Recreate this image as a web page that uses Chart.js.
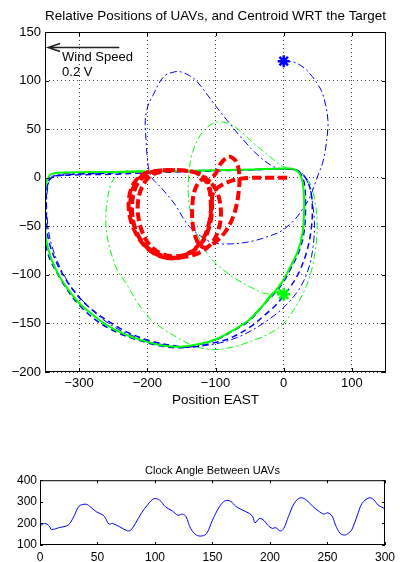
<!DOCTYPE html>
<html lang="en">
<head>
  <meta charset="UTF-8">
  <title>UAV Positions and Clock Angle</title>
  <script src="https://cdn.jsdelivr.net/npm/chart.js"></script>
  <style>
    body { margin: 0; background: #fff; width: 400px; height: 562px; position: relative; overflow: hidden; }
    canvas { position: absolute; left: 0; }
    #posChart { top: 0; }
    #clockChart { top: 455px; }
  </style>
</head>
<body>
  <canvas id="posChart" width="400" height="410"></canvas>
  <canvas id="clockChart" width="400" height="107"></canvas>

  <script>
    // ---- main plot: positions relative to the target ----
    const xTicks = [-300, -200, -100, 0, 100];
    const yTicks = [-200, -150, -100, -50, 0, 50, 100, 150];

    const greenSolidX = [0, -14, -30, -50, -74, -98, -122, -151, -175, -200, -230, -259, -282, -300, -316, -330, -341, -348, -350, -350, -348, -342, -330, -250, -150, -50, 10, 20, 26, 29, 30, 28, 21, 8, -2, -14, -30, -50];
    const greenSolidY = [-120, -118, -131, -146, -157, -166, -171, -174, -173, -169, -162, -152, -140, -129, -115, -100, -83, -65, -45, -20, -5, 3, 5, 6, 7, 8.5, 9.5, 7, 0, -12, -31, -55, -75, -94, -107, -118, -131, -146];

    const blueDashX = [-335, -300, -250, -200, -100, 0, 20, 32, 40, 42, 40, 33, 22, 10, -10, -19, -48, -78, -103, -130, -151, -200, -240, -289, -321, -343, -348, -347, -340,
                       -320, -250, -150, -50, 5, 22, 30, 32, 30, 23, 10, 0, -12, -28, -50, -75, -100, -151, -200, -259, -300, -330, -347, -350, -349, -343];
    const blueDashY = [2, 3, 3.5, 5, 7, 9, 7, 0, -15, -35, -55, -78, -98, -112, -130, -136, -153, -165, -170, -174, -174, -167, -155, -131, -103, -69, -40, -10, 0,
                       3, 5, 7, 8, 9, 6, -5, -30, -55, -75, -94, -107, -118, -130, -147, -158, -167, -175, -170, -154, -131, -101, -75, -45, -15, 0];

    const blueDashDotX = [0, 15, 30, 42, 55, 62, 65, 64, 61, 57, 50, 44, 37, 29, 15, -4, -25, -44, -73, -103, -122, -141, -160, -180, -195, -200, -202, -203, -199, -193, -176, -160, -151, -138, -127, -102, -83, -63, -39, -14, 5, 20, 30, 38, 42, 45, 44, 38, 25, 5, -20, -60, -100, -150, -200, -250, -290, -320, -340, -347, -346, -338, -300, -250];
    const blueDashDotY = [120, 119, 113, 104, 90, 73, 58, 45, 28, 15, 2, -10, -22, -31, -44, -55, -61, -65, -68, -67, -60, -48, -27, -10, 2, 21, 40, 59, 74, 83, 104, 109, 109, 105, 99, 76, 59, 42, 24, 11, 9, 8, 2, -10, -25, -45, -65, -90, -112, -130, -145, -162, -171, -174, -168, -153, -130, -103, -70, -40, -10, 2, 4, 5];

    const greenDashDotX = [0, -15, -29, -50, -73, -90, -103, -115, -124, -132, -137, -140, -139, -136, -130, -122, -112, -100, -92, -78, -62, -48, -33, -19, -5, 5, 18, 30, 40, 46, 49, 48, 42, 33, 20, 0, -20, -39, -73, -103, -132, -162, -180, -196, -215, -230, -244, -252, -259, -261, -259, -254, -245, -230, -200];
    const greenDashDotY = [-120, -120, -119, -112, -103, -94, -86, -75, -62, -51, -35, -15, 5, 20, 33, 44, 52, 57, 57.5, 55, 47, 38, 29, 21, 13, 10, 8, 2, -8, -25, -45, -65, -92, -112, -130, -150, -160, -166, -174, -177, -173, -162, -154, -145, -128, -110, -95, -80, -60, -40, -25, -8, 2, 7, 7];

    const centroidX = [5, -20, -45, -63, -80, -92, -103,
                       -106, -110, -120, -140, -165, -190, -212, -225, -227, -220, -205, -180, -155, -132, -115, -108,
                       -105, -109, -118, -137, -160, -183, -200, -211, -214, -208, -195, -175, -150, -128, -112,
                       -100, -92, -80, -70, -65, -67, -74, -86, -100, -115,
                       -125, -133, -134, -130, -120, -106, -96, -92, -95, -103, -118,
                       -140, -165, -192, -213, -222, -220, -210, -190, -165, -140, -120, -110, -107,
                       -108, -116, -134, -158, -186, -208, -221, -225, -219, -205, -185, -162];
    const centroidY = [0, 0, 0, -1, -4, -8, -14,
                       -30, -48, -65, -78, -83, -78, -63, -42, -22, -6, 4, 7.5, 7.5, 6, 0, -12,
                       -32, -50, -65, -77, -81, -77, -66, -48, -28, -10, 2, 7, 7.5, 5, -3,
                       4, 15, 21.5, 17, 3, -20, -40, -56, -66, -72,
                       -68, -50, -29, -12, -2, -6, -18, -36, -52, -65, -75,
                       -81, -82, -76, -60, -38, -16, -2, 6, 8, 7, 2, -10, -25,
                       -45, -62, -76, -83, -79, -66, -46, -26, -8, 3, 7, 8];

    const startBlue = [{ x: 0, y: 120 }];
    const startGreen = [{ x: 0, y: -120 }];

    // ---- bottom plot: clock angle ----
    const clockTicksX = [0, 50, 100, 150, 200, 250, 300];
    const clockTicksY = [100, 200, 300, 400];
    const clockTime = [0, 4, 8, 10, 17, 23, 26, 30, 34, 40, 43, 49, 55, 57, 60, 63, 69, 76, 79, 83, 88, 94, 99, 104, 109, 115, 120, 124, 127, 131, 136, 141, 145, 150, 156, 161, 166, 170, 176, 182, 185, 187, 191, 195, 198, 202, 205, 209, 212, 216, 221, 226, 231, 237, 242, 247, 250, 254, 257, 261, 265, 268, 271, 276, 280, 286, 290, 294, 300];
    const clockAngle = [188, 200, 188, 172, 181, 188, 200, 238, 280, 289, 280, 254, 238, 223, 197, 200, 185, 166, 169, 200, 246, 289, 314, 308, 277, 258, 238, 243, 231, 177, 146, 142, 154, 215, 277, 305, 302, 280, 262, 246, 231, 203, 223, 212, 192, 177, 180, 165, 177, 231, 292, 318, 311, 280, 258, 243, 249, 234, 192, 154, 146, 154, 169, 238, 292, 318, 311, 285, 268];

    const toPts = (xs, ys) => xs.map((x, i) => ({ x: x, y: ys[i] }));
    const minus = v => String(v).replace('-', '\u2212');

    Chart.defaults.font.family = "'Liberation Sans', Arial, sans-serif";
    Chart.defaults.color = '#000';

    // box round the axes with inward tick marks, like matlab
    const matlabBox = {
      id: 'matlabBox',
      afterDraw(chart, args, opts) {
        const { ctx, chartArea: a, scales: { x, y } } = chart;
        const len = opts.len || 4;
        ctx.save();
        ctx.strokeStyle = '#000';
        ctx.lineWidth = 1;
        ctx.strokeRect(a.left + 0.5, a.top + 0.5, a.right - a.left - 1, a.bottom - a.top - 1);
        ctx.beginPath();
        x.ticks.forEach(t => {
          const px = Math.round(x.getPixelForValue(t.value)) + 0.5;
          ctx.moveTo(px, a.bottom); ctx.lineTo(px, a.bottom - len);
          ctx.moveTo(px, a.top); ctx.lineTo(px, a.top + len);
        });
        y.ticks.forEach(t => {
          const py = Math.round(y.getPixelForValue(t.value)) + 0.5;
          ctx.moveTo(a.left, py); ctx.lineTo(a.left + len, py);
          ctx.moveTo(a.right, py); ctx.lineTo(a.right - len, py);
        });
        ctx.stroke();
        ctx.restore();
      }
    };

    // wind arrow and its label
    const windNote = {
      id: 'windNote',
      afterDraw(chart) {
        const { ctx, scales: { x, y } } = chart;
        const x0 = x.getPixelForValue(-345.5), x1 = x.getPixelForValue(-241);
        const ya = y.getPixelForValue(134);
        ctx.save();
        ctx.strokeStyle = '#222';
        ctx.lineWidth = 1.5;
        ctx.beginPath();
        ctx.moveTo(x1, ya); ctx.lineTo(x0, ya);
        ctx.moveTo(x0 + 12, ya - 4); ctx.lineTo(x0, ya); ctx.lineTo(x0 + 12, ya + 4);
        ctx.stroke();
        ctx.fillStyle = '#000';
        ctx.font = "13px 'Liberation Sans', Arial, sans-serif";
        ctx.textBaseline = 'middle';
        ctx.fillText('Wind Speed', x.getPixelForValue(-325), y.getPixelForValue(124));
        ctx.fillText('0.2 V', x.getPixelForValue(-325), y.getPixelForValue(108.5));
        ctx.restore();
      }
    };

    const lineSet = (data, color, width, dash) => ({
      data: data,
      showLine: true,
      borderColor: color,
      borderWidth: width,
      borderDash: dash,
      pointRadius: 0,
      tension: 0.35,
      fill: false
    });

    new Chart(document.getElementById('posChart'), {
      type: 'scatter',
      data: {
        datasets: [
          lineSet(toPts(centroidX, centroidY), '#ff0000', 4, [9, 4]),
          { data: startBlue, pointStyle: 'star', pointRadius: 6, borderColor: '#0000ff', borderWidth: 2.5 },
          { data: startGreen, pointStyle: 'star', pointRadius: 6.5, borderColor: '#00ff00', borderWidth: 2.5 },
          lineSet(toPts(greenSolidX, greenSolidY), '#00ff00', 2, []),
          lineSet(toPts(blueDashX, blueDashY), '#0000ff', 1.5, [6, 4]),
          lineSet(toPts(blueDashDotX, blueDashDotY), '#0000ff', 1, [7, 3, 2, 3]),
          lineSet(toPts(greenDashDotX, greenDashDotY), '#00ff00', 1, [7, 3, 2, 3])
        ]
      },
      options: {
        responsive: false,
        animation: false,
        layout: { padding: { left: 0, right: 14, top: 0, bottom: 0 } },
        plugins: {
          legend: { display: false },
          tooltip: { enabled: false },
          title: {
            display: true,
            fullSize: false,
            text: 'Relative Positions of UAVs, and Centroid WRT the Target',
            font: { size: 13.5, weight: 'normal' },
            padding: { top: 8, bottom: 7.8 }
          }
        },
        scales: {
          x: {
            type: 'linear', min: -350, max: 150,
            afterBuildTicks: s => { s.ticks = xTicks.map(v => ({ value: v })); },
            afterFit: s => { s.height = 38; },
            grid: { drawTicks: false, color: 'rgba(0,0,0,0.75)', lineWidth: 1 },
            border: { display: false, dash: [1, 3] },
            ticks: { padding: 4, font: { size: 13 }, callback: minus },
            title: { display: true, text: 'Position EAST', font: { size: 13.5 }, padding: { top: 0, bottom: 2 } }
          },
          y: {
            type: 'linear', min: -200, max: 150,
            afterBuildTicks: s => { s.ticks = yTicks.map(v => ({ value: v })); },
            afterFit: s => { s.width = 45; },
            grid: { drawTicks: false, color: 'rgba(0,0,0,0.75)', lineWidth: 1 },
            border: { display: false, dash: [1, 3] },
            ticks: { padding: 4, font: { size: 13 }, callback: minus }
          }
        }
      },
      plugins: [matlabBox, windNote]
    });

    new Chart(document.getElementById('clockChart'), {
      type: 'scatter',
      data: {
        datasets: [lineSet(toPts(clockTime, clockAngle), '#0000ff', 1, [])]
      },
      options: {
        responsive: false,
        animation: false,
        layout: { padding: { left: 0, right: 13, top: 0, bottom: 0 } },
        plugins: {
          legend: { display: false },
          tooltip: { enabled: false },
          matlabBox: { len: 3 },
          title: {
            display: true,
            fullSize: false,
            text: 'Clock Angle Between UAVs',
            font: { size: 11, weight: 'normal' },
            padding: { top: 9, bottom: 3 }
          }
        },
        scales: {
          x: {
            type: 'linear', min: 0, max: 300,
            afterBuildTicks: s => { s.ticks = clockTicksX.map(v => ({ value: v })); },
            afterFit: s => { s.height = 17; },
            grid: { display: false, drawTicks: false },
            border: { display: false },
            ticks: { padding: 5, font: { size: 12 } }
          },
          y: {
            type: 'linear', min: 100, max: 400,
            afterBuildTicks: s => { s.ticks = clockTicksY.map(v => ({ value: v })); },
            afterFit: s => { s.width = 40; },
            grid: { display: false, drawTicks: false },
            border: { display: false },
            ticks: { padding: 3, font: { size: 12 } }
          }
        }
      },
      plugins: [matlabBox]
    });
  </script>
</body>
</html>
